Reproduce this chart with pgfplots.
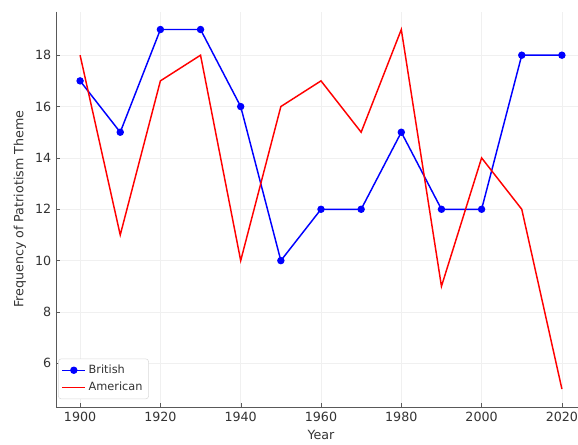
\documentclass[border=0pt]{standalone}
\usepackage{fontspec}
\setmainfont{DejaVu Sans}
\usepackage{pgfplots}
\pgfplotsset{compat=1.18}

\pgfplotstableread{
year british american
1900 17 18
1910 15 11
1920 19 17
1930 19 18
1940 16 10
1950 10 16
1960 12 17
1970 12 15
1980 15 19
1990 12 9
2000 12 14
2010 18 12
2020 18 5
}\themedata

\begin{document}
\begin{tikzpicture}
\begin{axis}[
    at={(0,0)}, anchor=south west,
    scale only axis,
    width=397.5pt, height=296.6pt,
    xmin=1894, xmax=2026,
    ymin=4.3, ymax=19.7,
    xtick={1900,1920,...,2020},
    ytick={6,8,...,18},
    tick pos=left,
    /pgf/number format/.cd, assume math mode=true, 1000 sep={}, /pgfplots/.cd,
    axis line style={draw=none},
    tick style={gray!70!black},
    tick align=inside,
    major tick length=3pt,
    ticklabel style={font=\fontsize{9.5}{11}\selectfont, text=black!80},
    grid=major,
    grid style={gray!12, line width=0.5pt},
    xlabel={Year},
    ylabel={Frequency of Patriotism Theme},
    label style={font=\fontsize{9.5}{11}\selectfont, text=black!80},
    legend style={at={(0.004,0.02)}, anchor=south west,
        draw=gray!30, rounded corners=2pt, fill=white,
        font=\fontsize{8.5}{10}\selectfont, text=black!80,
        row sep=1pt, inner sep=2.5pt},
    legend cell align=left,
]
\addplot[blue, line width=1.1pt, mark=*, mark size=2.2pt] table[x=year, y=british] {\themedata};
\addlegendentry{British}
\addplot[red, line width=1.1pt] table[x=year, y=american] {\themedata};
\addlegendentry{American}
% left and bottom spines only
\draw[gray!70!black, line width=0.6pt] (rel axis cs:0,1) -- (rel axis cs:0,0) -- (rel axis cs:1,0);
\end{axis}
\pgfresetboundingbox
\path (-42pt,-27.75pt) rectangle (391.5pt,305.25pt);
\end{tikzpicture}
\end{document}
